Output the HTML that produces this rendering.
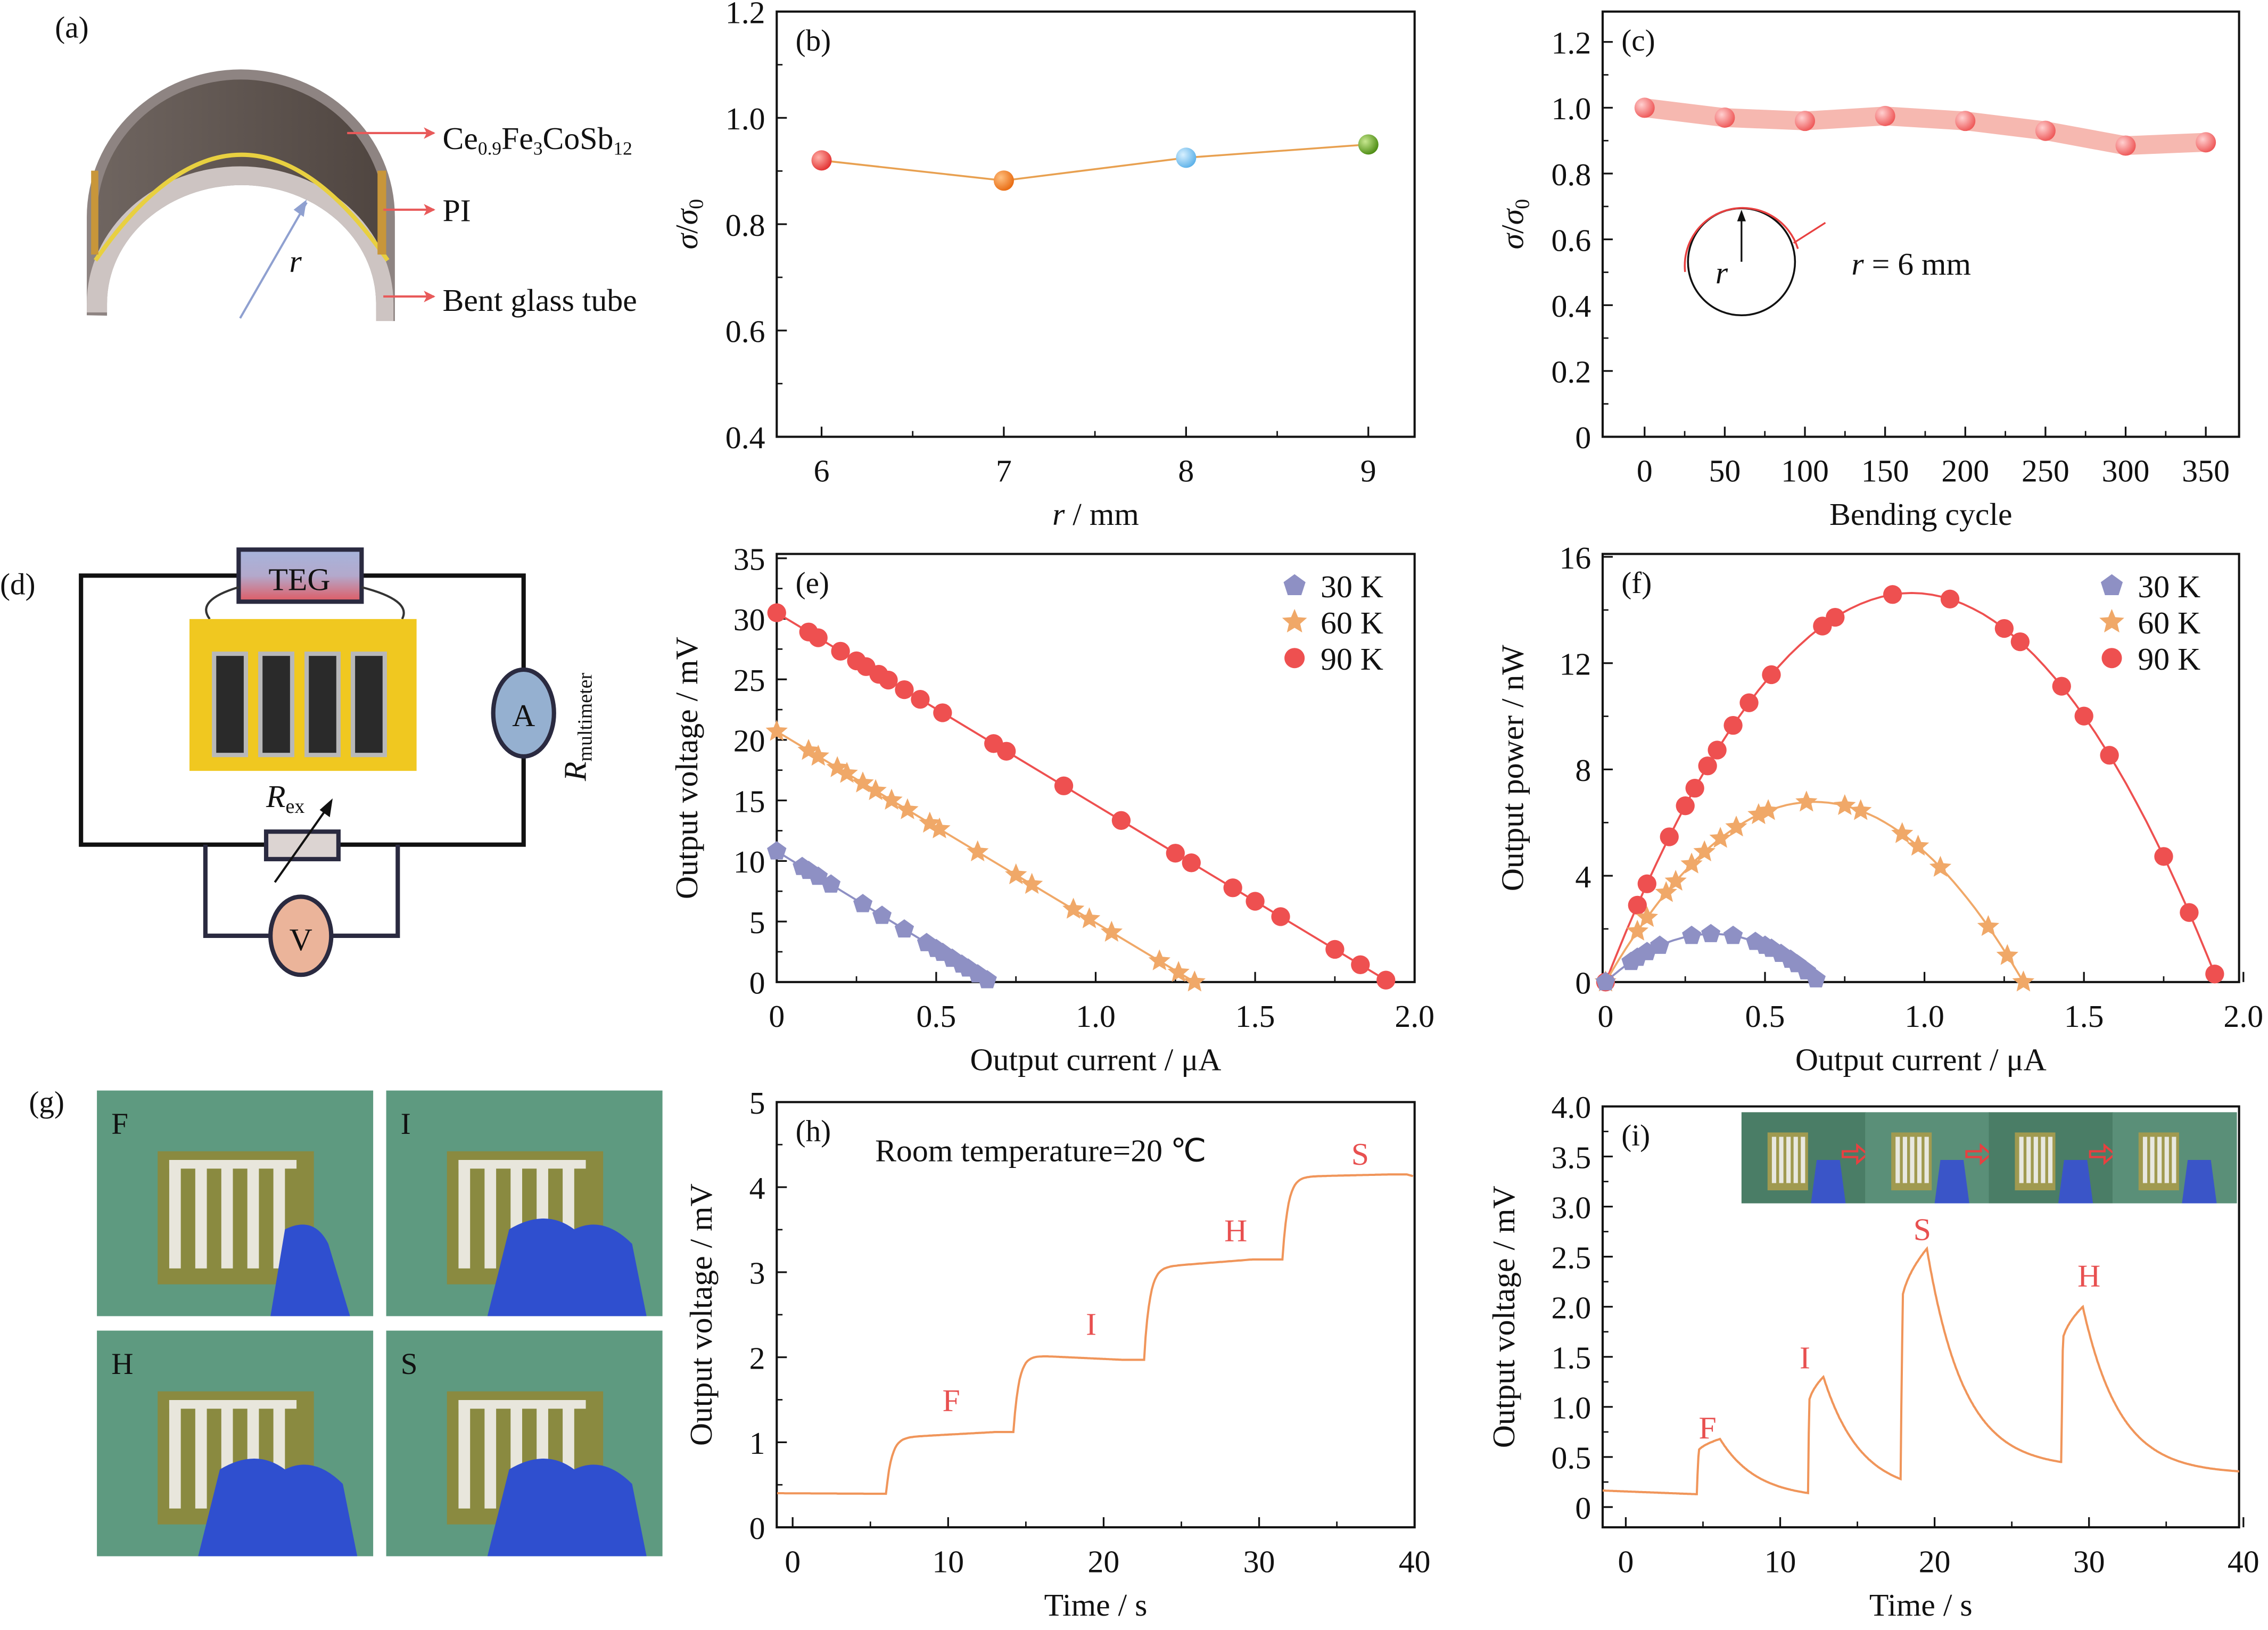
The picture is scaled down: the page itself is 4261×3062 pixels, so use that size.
<!DOCTYPE html>
<html><head><meta charset="utf-8">
<style>
html,body{margin:0;padding:0;background:#fff;}
svg{display:block;}
text{font-family:"Liberation Serif",serif;fill:#111;}
</style></head>
<body>
<svg id="s" xmlns="http://www.w3.org/2000/svg" width="4261" height="3062" viewBox="0 0 1568 1127" preserveAspectRatio="none">
<defs>
<linearGradient id="teg" x1="0" y1="0" x2="0" y2="1"><stop offset="0" stop-color="#a6b4dc"/><stop offset="0.5" stop-color="#b3a9cc"/><stop offset="1" stop-color="#e05a62"/></linearGradient>
<linearGradient id="dk" x1="0" y1="0" x2="1" y2="0"><stop offset="0" stop-color="#6f6560"/><stop offset="1" stop-color="#4f4540"/></linearGradient>
<radialGradient id="gr" cx="0.35" cy="0.35" r="0.7"><stop offset="0" stop-color="#ffb0a8"/><stop offset="1" stop-color="#e23030"/></radialGradient>
<radialGradient id="go" cx="0.35" cy="0.35" r="0.7"><stop offset="0" stop-color="#ffc080"/><stop offset="1" stop-color="#e86a10"/></radialGradient>
<radialGradient id="gb" cx="0.35" cy="0.35" r="0.7"><stop offset="0" stop-color="#d8f0ff"/><stop offset="1" stop-color="#5ab0e8"/></radialGradient>
<radialGradient id="gg" cx="0.35" cy="0.35" r="0.7"><stop offset="0" stop-color="#c8e890"/><stop offset="1" stop-color="#4a8a10"/></radialGradient>
<radialGradient id="gp" cx="0.35" cy="0.35" r="0.7"><stop offset="0" stop-color="#ffd0d0"/><stop offset="1" stop-color="#ee5555"/></radialGradient>
<marker id="ar" markerWidth="8" markerHeight="8" refX="7" refY="4" orient="auto" markerUnits="userSpaceOnUse"><path d="M0,0 L8,4 L0,8 L2,4z" fill="#e85a5a"/></marker>
</defs>
<!-- (a) -->
<text x="38" y="26" font-size="21">(a)</text>
<path d="M60,218 L60,150 A106.5,102 0 0 1 273,150 L273,222 Z" fill="#8e8482"/>
<path d="M67,215 L67,150 A99.5,95 0 0 1 266,150 L266,215 Z" fill="url(#dk)"/>
<path d="M60,216 L60,210 A106,95 0 0 1 272,210 L272,222 L260,222 L260,210 A93,82 0 0 0 74,210 L74,216 Z" fill="#cdc4c2"/>
<path d="M74,222 L74,210 A93,82 0 0 1 260,210 L260,222 Z" fill="#fff"/>
<path d="M66,180 Q167,34 268,180" fill="none" stroke="#e8d040" stroke-width="3"/>
<rect x="63" y="118" width="5" height="58" fill="#c8963a"/><rect x="261" y="118" width="6" height="58" fill="#c8963a"/>
<line x1="166" y1="220" x2="212" y2="140" stroke="#8fa0d0" stroke-width="1.5"/>
<path d="M212,138 l-2,12 l-7,-5z" fill="#8fa0d0"/>
<text x="200" y="188" font-size="22" font-style="italic">r</text>
<line x1="240" y1="92" x2="300" y2="92" stroke="#e85a5a" stroke-width="1.5" marker-end="url(#ar)"/>
<line x1="265" y1="145" x2="300" y2="145" stroke="#e85a5a" stroke-width="1.5" marker-end="url(#ar)"/>
<line x1="265" y1="205" x2="300" y2="205" stroke="#e85a5a" stroke-width="1.5" marker-end="url(#ar)"/>
<text x="306" y="103" font-size="22">Ce<tspan font-size="13" dy="4">0.9</tspan><tspan dy="-4">Fe</tspan><tspan font-size="13" dy="4">3</tspan><tspan dy="-4">CoSb</tspan><tspan font-size="13" dy="4">12</tspan></text>
<text x="306" y="153" font-size="22">PI</text>
<text x="306" y="215" font-size="22">Bent glass tube</text>
<!-- (d) -->
<text x="0" y="411" font-size="21">(d)</text>
<path d="M165,398 L56,398 L56,584 L362,584 L362,398 L250,398" fill="none" stroke="#111" stroke-width="3"/>
<path d="M142,584 L142,647 L190,647 M226,647 L275,647 L275,584" fill="none" stroke="#2a2a40" stroke-width="3"/>
<rect x="165" y="380" width="85" height="36" fill="url(#teg)" stroke="#2a2a40" stroke-width="3"/>
<text x="207" y="408" font-size="22" text-anchor="middle">TEG</text>
<path d="M165,406 Q135,415 145,428 M250,406 Q285,415 278,428" fill="none" stroke="#333" stroke-width="1.5"/>
<rect x="131" y="428" width="157" height="105" fill="#f0c820"/>
<g fill="#2a2a2a" stroke="#b8b8b8" stroke-width="3">
<rect x="148" y="452" width="22" height="70"/><rect x="180" y="452" width="22" height="70"/><rect x="212" y="452" width="22" height="70"/><rect x="244" y="452" width="22" height="70"/></g>
<rect x="184" y="575" width="50" height="19" fill="#dcd4d2" stroke="#2a2a40" stroke-width="3"/>
<line x1="190" y1="610" x2="228" y2="556" stroke="#111" stroke-width="1.5"/><path d="M230,552 l-2,13 l-7,-5z" fill="#111"/>
<text x="184" y="558" font-size="22" font-style="italic">R<tspan font-size="14" font-style="normal" dy="4">ex</tspan></text>
<ellipse cx="362" cy="493" rx="21" ry="30" fill="#95b0d0" stroke="#2a2a40" stroke-width="3"/>
<text x="362" y="502" font-size="22" text-anchor="middle">A</text>
<ellipse cx="208" cy="647" rx="21" ry="27" fill="#ebb49a" stroke="#2a2a40" stroke-width="3"/>
<text x="208" y="657" font-size="22" text-anchor="middle">V</text>
<text transform="translate(405,540) rotate(-90)" font-size="22" font-style="italic">R<tspan font-size="14" font-style="normal" dy="4">multimeter</tspan></text>
<!-- (g) -->
<text x="20" y="769" font-size="21">(g)</text>
<g id="photos"></g>
<g id="plots"></g>
</svg>
<script>
var P=document.getElementById('plots'),out='';
function add(s){out+=s;}
function axes(o){
 var s='<rect x="'+o.x0+'" y="'+o.y0+'" width="'+(o.x1-o.x0)+'" height="'+(o.y1-o.y0)+'" fill="none" stroke="#111" stroke-width="1.5"/>';
 o.xt.forEach(function(t){s+='<line x1="'+t[0]+'" y1="'+o.y1+'" x2="'+t[0]+'" y2="'+(o.y1-7)+'" stroke="#111" stroke-width="1.2"/><text x="'+t[0]+'" y="'+(o.y1+31)+'" font-size="22" text-anchor="middle">'+t[1]+'</text>';});
 (o.xm||[]).forEach(function(x){s+='<line x1="'+x+'" y1="'+o.y1+'" x2="'+x+'" y2="'+(o.y1-4)+'" stroke="#111" stroke-width="1"/>';});
 o.yt.forEach(function(t){s+='<line x1="'+o.x0+'" y1="'+t[0]+'" x2="'+(o.x0+7)+'" y2="'+t[0]+'" stroke="#111" stroke-width="1.2"/><text x="'+(o.x0-8)+'" y="'+(t[0]+8)+'" font-size="22" text-anchor="end">'+t[1]+'</text>';});
 (o.ym||[]).forEach(function(y){s+='<line x1="'+o.x0+'" y1="'+y+'" x2="'+(o.x0+4)+'" y2="'+y+'" stroke="#111" stroke-width="1"/>';});
 s+='<text x="'+((o.x0+o.x1)/2)+'" y="'+(o.y1+61)+'" font-size="22" text-anchor="middle">'+o.xl+'</text>';
 s+='<text transform="translate('+o.yx+','+((o.y0+o.y1)/2)+') rotate(-90)" font-size="22" text-anchor="middle">'+o.yl+'</text>';
 s+='<text x="'+(o.x0+13)+'" y="'+(o.y0+27)+'" font-size="21">'+o.lab+'</text>';
 add(s);
}
function lin(a,b,c,d){return function(v){return c+(v-a)*(d-c)/(b-a);};}
function ticks(f,arr,fmt){return arr.map(function(v){return [f(v),fmt?fmt(v):String(v)];});}
function mids(f,arr){return arr.map(f);}
var bx=lin(6,9,568,946),by=lin(0.4,1.2,302,8);
axes({x0:537,x1:978,y0:8,y1:302,xt:ticks(bx,[6,7,8,9]),xm:mids(bx,[6.5,7.5,8.5]),yt:ticks(by,[0.4,0.6,0.8,1.0,1.2],function(v){return v.toFixed(1)}),ym:mids(by,[0.5,0.7,0.9,1.1]),xl:'<tspan font-style="italic">r</tspan> / mm',yl:'<tspan font-style="italic">σ</tspan>/<tspan font-style="italic">σ</tspan><tspan font-size="14" dy="4">0</tspan>',yx:482,lab:'(b)'});
var bd=[[6,0.92,'gr'],[7,0.882,'go'],[8,0.925,'gb'],[9,0.95,'gg']];
add('<polyline points="'+bd.map(function(p){return bx(p[0])+','+by(p[1])}).join(' ')+'" fill="none" stroke="#e8a050" stroke-width="1.3"/>');
bd.forEach(function(p){add('<circle cx="'+bx(p[0])+'" cy="'+by(p[1])+'" r="7" fill="url(#'+p[2]+')"/>');});
var cx=lin(0,350,1137,1525),cy=lin(0,1.2,302,29);
axes({x0:1108,x1:1548,y0:8,y1:302,xt:ticks(cx,[0,50,100,150,200,250,300,350]),xm:mids(cx,[25,75,125,175,225,275,325]),yt:ticks(cy,[0,0.2,0.4,0.6,0.8,1.0,1.2],function(v){return v==0?'0':v.toFixed(1)}),ym:mids(cy,[0.1,0.3,0.5,0.7,0.9,1.1]),xl:'Bending cycle',yl:'<tspan font-style="italic">σ</tspan>/<tspan font-style="italic">σ</tspan><tspan font-size="14" dy="4">0</tspan>',yx:1053,lab:'(c)'});
var cd=[1.0,0.97,0.96,0.975,0.96,0.93,0.885,0.895];
var cp=cd.map(function(v,i){return cx(i*50)+','+cy(v)}).join(' ');
add('<polyline points="'+cp+'" fill="none" stroke="#f6b8b0" stroke-width="13" stroke-linejoin="round"/>');
cd.forEach(function(v,i){add('<circle cx="'+cx(i*50)+'" cy="'+cy(v)+'" r="7" fill="url(#gp)"/>');});
add('<circle cx="1204" cy="181" r="37" fill="none" stroke="#111" stroke-width="1.3"/><path d="M1165,188 A40,40 0 0 1 1243,172" fill="none" stroke="#e84040" stroke-width="1.3"/><line x1="1204" y1="181" x2="1204" y2="148" stroke="#111" stroke-width="1.2"/><path d="M1204,145 l-3,8 l6,0z" fill="#111"/><line x1="1262" y1="154" x2="1240" y2="168" stroke="#e84040" stroke-width="1.2"/><text x="1186" y="196" font-size="22" font-style="italic">r</text><text x="1280" y="190" font-size="22"><tspan font-style="italic">r</tspan> = 6 mm</text>');
var ex=lin(0,2,537,978),ey=lin(0,35,679,386);
axes({x0:537,x1:978,y0:383,y1:679,xt:ticks(ex,[0,0.5,1.0,1.5,2.0],function(v){return v==0?'0':v.toFixed(1)}),xm:mids(ex,[0.25,0.75,1.25,1.75]),yt:ticks(ey,[0,5,10,15,20,25,30,35]),ym:mids(ey,[2.5,7.5,12.5,17.5,22.5,27.5,32.5]),xl:'Output current / μA',yl:'Output voltage / mV',yx:482,lab:'(e)'});
function star(x,y,r,c){var s='';for(var i=0;i<10;i++){var a=-Math.PI/2+i*Math.PI/5,rr=i%2?r*0.45:r;s+=(x+rr*Math.cos(a)).toFixed(1)+','+(y+rr*Math.sin(a)).toFixed(1)+' ';}return '<polygon points="'+s+'" fill="'+c+'"/>';}
function pent(x,y,r,c){var s='';for(var i=0;i<5;i++){var a=-Math.PI/2+i*2*Math.PI/5;s+=(x+r*Math.cos(a)).toFixed(1)+','+(y+r*Math.sin(a)).toFixed(1)+' ';}return '<polygon points="'+s+'" fill="'+c+'"/>';}
var sets=[{v0:30.5,i0:1.92,c:'#ee5050',m:'c',I:[0,0.1,0.13,0.2,0.25,0.28,0.32,0.35,0.4,0.45,0.52,0.68,0.72,0.9,1.08,1.25,1.3,1.43,1.5,1.58,1.75,1.83,1.91]},
 {v0:20.7,i0:1.31,c:'#f0a868',m:'s',I:[0,0.1,0.13,0.19,0.22,0.27,0.31,0.36,0.41,0.48,0.51,0.63,0.75,0.8,0.93,0.98,1.05,1.2,1.26,1.31]},
 {v0:10.8,i0:0.67,c:'#8e90c4',m:'p',I:[0,0.08,0.1,0.13,0.17,0.27,0.33,0.4,0.47,0.5,0.52,0.55,0.58,0.6,0.63,0.66]}];
function volt(s,I){return s.v0*(1-I/s.i0);}
sets.forEach(function(s){add('<line x1="'+ex(0)+'" y1="'+ey(s.v0)+'" x2="'+ex(s.i0)+'" y2="'+ey(0)+'" stroke="'+s.c+'" stroke-width="1.4"/>');
 s.I.forEach(function(I){var x=ex(I),y=ey(volt(s,I));add(s.m=='c'?'<circle cx="'+x+'" cy="'+y+'" r="6.5" fill="#ee5050"/>':s.m=='s'?star(x,y,8,'#f0a868'):pent(x,y,7,'#8e90c4'));});});
function legend(x,y){add(pent(x,y,8,'#8e90c4')+'<text x="'+(x+18)+'" y="'+(y+8)+'" font-size="22">30 K</text>'+star(x,y+25,9,'#f0a868')+'<text x="'+(x+18)+'" y="'+(y+33)+'" font-size="22">60 K</text><circle cx="'+x+'" cy="'+(y+50)+'" r="7" fill="#ee5050"/><text x="'+(x+18)+'" y="'+(y+58)+'" font-size="22">90 K</text>');}
legend(895,405);
var fx=lin(0,2,1110,1551),fy=lin(0,16,679,385);
axes({x0:1108,x1:1548,y0:383,y1:679,xt:ticks(fx,[0,0.5,1.0,1.5,2.0],function(v){return v==0?'0':v.toFixed(1)}),xm:mids(fx,[0.25,0.75,1.25,1.75]),yt:ticks(fy,[0,4,8,12,16]),ym:mids(fy,[2,6,10,14]),xl:'Output current / μA',yl:'Output power / nW',yx:1053,lab:'(f)'});
sets.forEach(function(s){var pts='';for(var k=0;k<=60;k++){var I=s.i0*k/60;pts+=fx(I).toFixed(1)+','+fy(I*volt(s,I)).toFixed(1)+' ';}
 add('<polyline points="'+pts+'" fill="none" stroke="'+s.c+'" stroke-width="1.4"/>');
 s.I.forEach(function(I){var x=fx(I),y=fy(I*volt(s,I));add(s.m=='c'?'<circle cx="'+x+'" cy="'+y+'" r="6.5" fill="#ee5050"/>':s.m=='s'?star(x,y,8,'#f0a868'):pent(x,y,7,'#8e90c4'));});});
legend(1460,405);
var hx=lin(0,40,548,978),hy=lin(0,5,1056,762);
axes({x0:537,x1:978,y0:762,y1:1056,xt:ticks(hx,[0,10,20,30,40]),xm:mids(hx,[5,15,25,35]),yt:ticks(hy,[0,1,2,3,4,5]),ym:mids(hy,[0.5,1.5,2.5,3.5,4.5]),xl:'Time / s',yl:'Output voltage / mV',yx:492,lab:'(h)'});
var hp='',steps=[[-1,0.4,0.38],[6,1.05,1.12],[14.2,2.03,1.97],[22.6,3.05,3.15],[31.5,4.12,4.15]];
for(var t=-1;t<=40;t+=0.1){var v=0.4-0.001*t;for(var k=1;k<steps.length;k++){if(t>=steps[k][0]){var dt=t-steps[k][0];var base=steps[k-1][2];var lvl=steps[k][1]+(steps[k][2]-steps[k][1])*Math.min(1,dt/7);v=base+(lvl-base)*(1-Math.exp(-dt/0.35));}}
 if(t>39.5)v-=0.1*(t-39.5)*0.5;hp+=hx(t).toFixed(1)+','+hy(v).toFixed(1)+' ';}
add('<svg x="537" y="762" width="441" height="294" viewBox="537 762 441 294" overflow="hidden"><polyline points="'+hp+'" fill="none" stroke="#f0955a" stroke-width="1.5"/></svg>');
add('<text x="605" y="803" font-size="22">Room temperature=20 ℃</text>');
[['F',10.2,1.5],['I',19.2,2.4],['H',28.5,3.5],['S',36.5,4.4]].forEach(function(l){add('<text x="'+hx(l[1])+'" y="'+(hy(l[2])+8)+'" font-size="22" style="fill:#e85050" text-anchor="middle">'+l[0]+'</text>');});
var ix=lin(0,40,1124,1551),iy=lin(0,4,1042,765);
axes({x0:1108,x1:1548,y0:765,y1:1056,xt:ticks(ix,[0,10,20,30,40]),xm:mids(ix,[5,15,25,35]),yt:ticks(iy,[0,0.5,1,1.5,2,2.5,3,3.5,4],function(v){return v==0?'0':v.toFixed(1)}),ym:mids(iy,[0.25,0.75,1.25,1.75,2.25,2.75,3.25,3.75]),xl:'Time / s',yl:'Output voltage / mV',yx:1047,lab:'(i)'});
var pk=[[4.6,6.1,0.68,0.14],[11.8,12.8,1.3,0.28],[17.8,19.5,2.58,0.45],[28.2,29.6,2.0,0.35]];
function iv(t){
 if(t<pk[0][0])return 0.165-0.006*(t+1.5);
 var start=0.13;
 for(var k=0;k<pk.length;k++){var p=pk[k];var next=k+1<pk.length?pk[k+1][0]:40.5;
  if(t>=p[0]&&t<next){
   if(t<p[1]){var u=(t-p[0])/(p[1]-p[0]);var j=Math.min(1,u/0.08);return start+(p[2]-start)*(0.72*j+0.28*Math.sqrt(u));}
   var D=next-p[1],d=t-p[1],tau=2.4;var a=Math.exp(-d/tau),b=Math.exp(-D/tau);
   return p[3]+(p[2]-p[3])*(a-b)/(1-b);}
  start=p[3];}
 return 0.35;}
var ip='';
for(var t=-1.5;t<=40.5;t+=0.05){ip+=ix(t).toFixed(1)+','+iy(iv(t)).toFixed(1)+' ';}
add('<svg x="1108" y="765" width="440" height="291" viewBox="1108 765 440 291" overflow="hidden"><polyline points="'+ip+'" fill="none" stroke="#f0955a" stroke-width="1.5"/></svg>');
[['F',5.3,0.8],['I',11.6,1.5],['S',19.2,2.78],['H',30,2.32]].forEach(function(l){add('<text x="'+ix(l[1])+'" y="'+(iy(l[2])+8)+'" font-size="22" style="fill:#e85050" text-anchor="middle">'+l[0]+'</text>');});
var ins='';for(var k=0;k<4;k++){var x0=1204+k*85.5;ins+='<rect x="'+x0+'" y="769" width="86" height="63" fill="'+(k%2?'#5a8f78':'#4a7d66')+'"/><rect x="'+(x0+18)+'" y="783" width="28" height="40" fill="#a09a50"/><g fill="#e8e8e0">';for(var j=0;j<5;j++)ins+='<rect x="'+(x0+21+j*5)+'" y="786" width="3" height="32"/>';ins+='</g><path d="M'+(x0+48)+','+832+' l4,-30 l16,0 l4,30z" fill="#3a55c8"/>';if(k<3)ins+='<path d="M'+(x0+70)+',796 l10,0 l0,-4 l7,6 l-7,6 l0,-4 l-10,0z" fill="none" stroke="#e84040" stroke-width="1.5"/>';}
add(ins);
P.innerHTML=out;
var ph='',pos=[[67,754,'F'],[267,754,'I'],[67,920,'H'],[267,920,'S']];
pos.forEach(function(p,n){var x=p[0],y=p[1];ph+='<rect x="'+x+'" y="'+y+'" width="191" height="156" fill="#5e9a80"/>';
 ph+='<rect x="'+(x+42)+'" y="'+(y+42)+'" width="108" height="92" fill="#8a8a40"/><g fill="#e8e6dc">';
 for(var j=0;j<5;j++)ph+='<rect x="'+(x+50+j*18)+'" y="'+(y+48)+'" width="8" height="75"/>';
 ph+='<rect x="'+(x+50)+'" y="'+(y+48)+'" width="88" height="6"/></g>';
 var g=n==0?'M'+(x+120)+','+(y+156)+' l10,-60 q20,-10 30,10 l15,50z':'M'+(x+70)+','+(y+156)+' l15,-60 q25,-15 45,0 q20,-10 40,10 l10,50z';
 ph+='<path d="'+g+'" fill="#2f4fcf"/><text x="'+(x+10)+'" y="'+(y+30)+'" font-size="21">'+p[2]+'</text>';});
document.getElementById('photos').innerHTML=ph;
</script>
</body></html>
